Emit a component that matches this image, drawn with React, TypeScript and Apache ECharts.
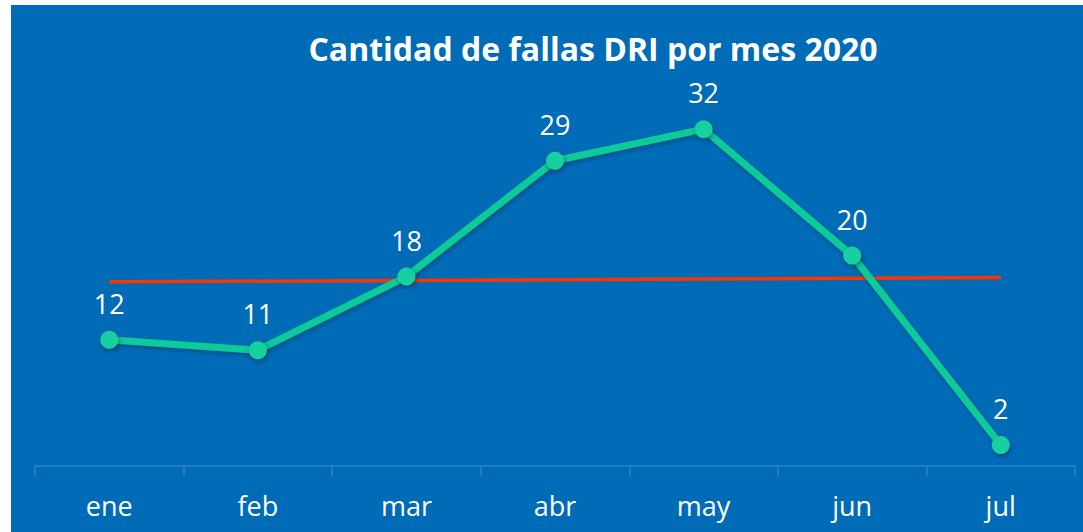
import React, { useEffect, useRef } from "react";
import * as echarts from "echarts";

const months = ["ene", "feb", "mar", "abr", "may", "jun", "jul"];
const fallas = [12, 11, 18, 29, 32, 20, 2];
const promedio = [17.5, null, null, null, null, null, 17.9];
const titleText = "Cantidad de fallas DRI por mes 2020";

export default function App() {
  const ref = useRef<HTMLDivElement>(null);
  useEffect(() => {
    document.body.style.margin = "0";
    const chart = echarts.init(ref.current!, null, { renderer: "svg" });
    const font = "Open Sans";
    chart.setOption({
      animation: false,
      backgroundColor: "#ffffff",
      graphic: [
        {
          type: "rect",
          z: -10,
          shape: { x: 11, y: 5, width: 1072, height: 527 },
          style: { fill: "#006BB7" },
        },
      ],
      title: {
        text: titleText,
        left: 588,
        top: 27,
        textAlign: "center",
        textStyle: { color: "#ffffff", fontSize: 32, fontWeight: "bold", fontFamily: font },
      },
      grid: { left: 35, right: 8, top: 45, bottom: 66 },
      xAxis: {
        type: "category",
        data: months,
        boundaryGap: true,
        axisLine: { lineStyle: { color: "#2f83c6", width: 1.5 } },
        axisTick: { show: true, length: 10, lineStyle: { color: "#2f83c6", width: 1.5 } },
        axisLabel: { color: "#ffffff", fontSize: 27, fontFamily: font, margin: 26 },
      },
      yAxis: {
        type: "value",
        min: 0,
        max: 40,
        show: false,
        splitLine: { show: false },
      },
      series: [
        {
          type: "line",
          data: promedio,
          connectNulls: true,
          symbol: "none",
          lineStyle: { color: "#FF3300", width: 3.5 },
          z: 1,
        },
        {
          type: "line",
          data: fallas,
          symbol: "circle",
          symbolSize: 18,
          z: 2,
          lineStyle: {
            color: "#0FCA99",
            width: 7,
            shadowColor: "rgba(0,0,0,0.3)",
            shadowBlur: 4,
            shadowOffsetX: 1,
            shadowOffsetY: 2,
          },
          itemStyle: {
            color: "#17D09F",
            shadowColor: "rgba(0,0,0,0.4)",
            shadowBlur: 5,
            shadowOffsetX: 1,
            shadowOffsetY: 2,
          },
          label: {
            show: true,
            position: "top",
            distance: 14,
            color: "#ffffff",
            fontSize: 27,
            fontFamily: font,
          },
        },
      ],
    });
    return () => chart.dispose();
  }, []);
  return <div ref={ref} style={{ width: 1083, height: 532 }} />;
}
